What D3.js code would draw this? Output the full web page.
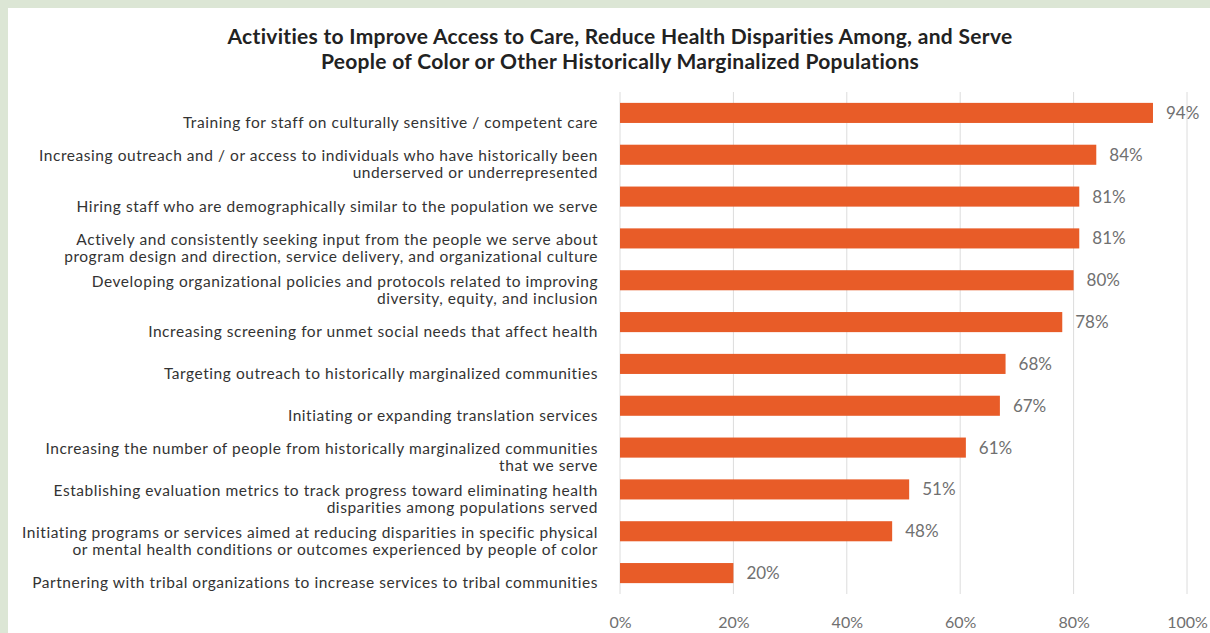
<!DOCTYPE html>
<html>
<head>
<meta charset="utf-8">
<script src="https://cdn.jsdelivr.net/npm/d3@7"></script>
<style>
  html, body { margin: 0; padding: 0; background: #dce6d5; }
  svg { display: block; }
</style>
</head>
<body>
<div id="chart"></div>
<script>
var titleLines = [
  "Activities to Improve Access to Care, Reduce Health Disparities Among, and Serve",
  "People of Color or Other Historically Marginalized Populations"
];

var categories = [
  ["Training for staff on culturally sensitive / competent care"],
  ["Increasing outreach and / or access to individuals who have historically been", "underserved or underrepresented"],
  ["Hiring staff who are demographically similar to the population we serve"],
  ["Actively and consistently seeking input from the people we serve about", "program design and direction, service delivery, and organizational culture"],
  ["Developing organizational policies and protocols related to improving", "diversity, equity, and inclusion"],
  ["Increasing screening for unmet social needs that affect health"],
  ["Targeting outreach to historically marginalized communities"],
  ["Initiating or expanding translation services"],
  ["Increasing the number of people from historically marginalized communities", "that we serve"],
  ["Establishing evaluation metrics to track progress toward eliminating health", "disparities among populations served"],
  ["Initiating programs or services aimed at reducing disparities in specific physical", "or mental health conditions or outcomes experienced by people of color"],
  ["Partnering with tribal organizations to increase services to tribal communities"]
];

var values = [94, 84, 81, 81, 80, 78, 68, 67, 61, 51, 48, 20];

var tickValues = [0, 20, 40, 60, 80, 100];

var width = 1210, height = 633;
var font = "Lato, 'Open Sans', sans-serif";

var svg = d3.select("#chart").append("svg")
    .attr("width", width)
    .attr("height", height);

// white panel on the green page
svg.append("rect")
    .attr("x", 8).attr("y", 8)
    .attr("width", width - 8).attr("height", height - 8)
    .attr("fill", "#ffffff");

var x = d3.scaleLinear().domain([0, 100]).range([620, 1187]);

var y = d3.scaleBand()
    .domain(d3.range(categories.length))
    .range([92, 594])
    .paddingInner(0.52)
    .paddingOuter(0.26);

// title
svg.append("g").selectAll("text")
    .data(titleLines)
    .enter().append("text")
    .attr("x", 620)
    .attr("y", function(d, i) { return 44 + i * 25; })
    .attr("text-anchor", "middle")
    .attr("font-family", font)
    .attr("font-weight", "bold")
    .attr("font-size", 21)
    .attr("letter-spacing", 0.3)
    .attr("fill", "#222")
    .text(function(d) { return d; });

// gridlines
svg.append("g").selectAll("line")
    .data(tickValues)
    .enter().append("line")
    .attr("x1", function(d) { return x(d); })
    .attr("x2", function(d) { return x(d); })
    .attr("y1", 92)
    .attr("y2", 594)
    .attr("stroke", "#dcdcdc")
    .attr("stroke-width", 1);

// bars
svg.append("g").selectAll("rect")
    .data(values)
    .enter().append("rect")
    .attr("x", x(0))
    .attr("y", function(d, i) { return y(i); })
    .attr("width", function(d) { return x(d) - x(0); })
    .attr("height", y.bandwidth())
    .attr("fill", "#e85c28");

// value labels
svg.append("g").selectAll("text")
    .data(values)
    .enter().append("text")
    .attr("x", function(d) { return x(d) + 13; })
    .attr("y", function(d, i) { return y(i) + y.bandwidth() / 2 + 6; })
    .attr("font-family", font)
    .attr("font-size", 17)
    .attr("fill", "#707070")
    .text(function(d) { return d + "%"; });

// category labels
var lineH = 17;
var labels = svg.append("g").selectAll("text")
    .data(categories)
    .enter().append("text")
    .attr("text-anchor", "end")
    .attr("font-family", font)
    .attr("font-size", 15.5)
    .attr("letter-spacing", 0.55)
    .attr("fill", "#333");

labels.each(function(lines, i) {
  var cy = y(i) + y.bandwidth() / 2 + 10;
  var top = cy - (lines.length - 1) * lineH / 2 + 5;
  d3.select(this).selectAll("tspan")
      .data(lines)
      .enter().append("tspan")
      .attr("x", 598)
      .attr("y", function(d, j) { return top + j * lineH; })
      .text(function(d) { return d; });
});

// axis tick labels
var axis = svg.append("g")
    .attr("transform", "translate(0,628)")
    .call(d3.axisBottom(x).tickValues(tickValues).tickSize(0).tickPadding(0)
      .tickFormat(function(d) { return d + "%"; }));
axis.select(".domain").remove();
axis.selectAll("text")
    .attr("font-family", font)
    .attr("font-size", 16)
    .attr("fill", "#707070")
    .attr("dy", 0);
</script>
</body>
</html>
